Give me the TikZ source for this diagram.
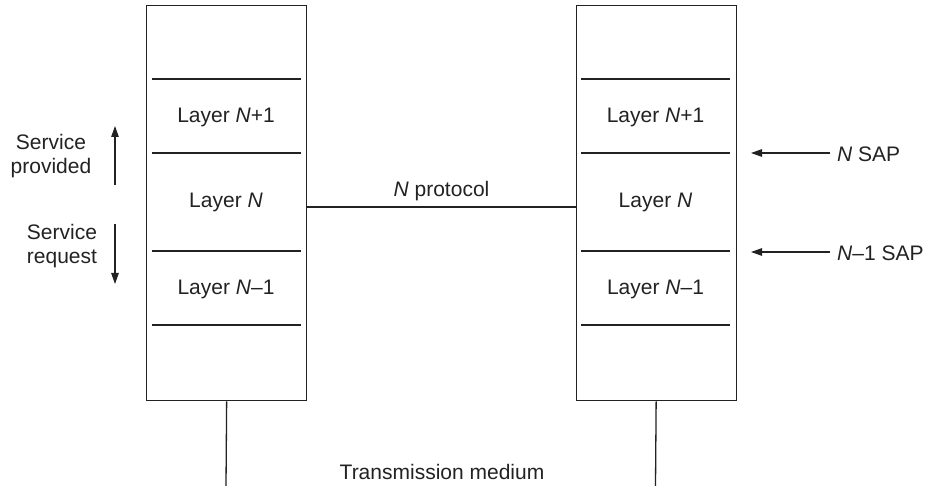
\documentclass[tikz,border=0pt]{standalone}
\usepackage{fontspec}
\setmainfont{Liberation Sans}
\usetikzlibrary{arrows.meta}
\definecolor{ink}{HTML}{222222}
\begin{document}
\begin{tikzpicture}[x=1pt,y=-1pt,
  every node/.style={text=ink,font=\fontsize{21}{24}\selectfont},
  stackbox/.style={draw=ink,line width=1.3pt,minimum width=160pt,minimum height=395pt,anchor=north west,inner sep=0pt},
  bar/.style={draw=ink,line width=2.8pt},
  thin/.style={draw=ink,line width=1.3pt},
  arr/.style={draw=ink,line width=1.2pt,-{Triangle[length=11pt,width=7.5pt]}}]
\useasboundingbox (0,0) rectangle (937,486);
% stacks
\node[stackbox] (L) at (146,5) {};
\node[stackbox] (R) at (575.5,5) {};
% bars
\foreach \y in {79,153,251,325}{
  \draw[bar] (151.5,\y) -- (300.5,\y);
  \draw[bar] (581,\y) -- (730,\y);
}
% layer labels
\node (L1) at (226,117) {Layer \textit{N}+1};
\node (L2) at (226,202) {Layer \textit{N}};
\node (L3) at (226,289) {Layer \textit{N}--1};
\node (R1) at (655.5,117) {Layer \textit{N}+1};
\node (R2) at (655.5,202) {Layer \textit{N}};
\node (R3) at (655.5,289) {Layer \textit{N}--1};
% protocol
\coordinate (pl) at (L.east |- 0,207);
\coordinate (pr) at (R.west |- 0,207);
\draw[thin] (pl) -- (pr);
\node (prot) at (441.5,191) {\textit{N} protocol};
% service arrows
\node[align=center] (sp) at (51,156) {Service\\provided};
\node[align=center] (sr) at (62,246) {Service\\request};
\coordinate (sp1) at (115,185);
\coordinate (sp2) at (115,126);
\coordinate (sr1) at (115,224);
\coordinate (sr2) at (115,284);
\draw[arr] (sp1) -- (sp2);
\draw[arr] (sr1) -- (sr2);
% SAP
\node[anchor=west,inner sep=0pt] (sapN) at (837,154) {\textit{N} SAP};
\node[anchor=west,inner sep=0pt] (sapN1) at (837,253) {\textit{N}--1 SAP};
\coordinate (t1) at (751,153);
\coordinate (t2) at (751,252);
\draw[arr] (sapN.west |- t1) ++(-7,0) -- (t1);
\draw[arr] (sapN1.west |- t2) ++(-7,0) -- (t2);
% medium
\coordinate (bl) at (226,486);
\coordinate (br) at (655.5,486);
\draw[thin] (L.south) -- (bl);
\draw[thin] (R.south) -- (br);
\node (med) at (442,472) {Transmission medium};
\end{tikzpicture}
\end{document}
